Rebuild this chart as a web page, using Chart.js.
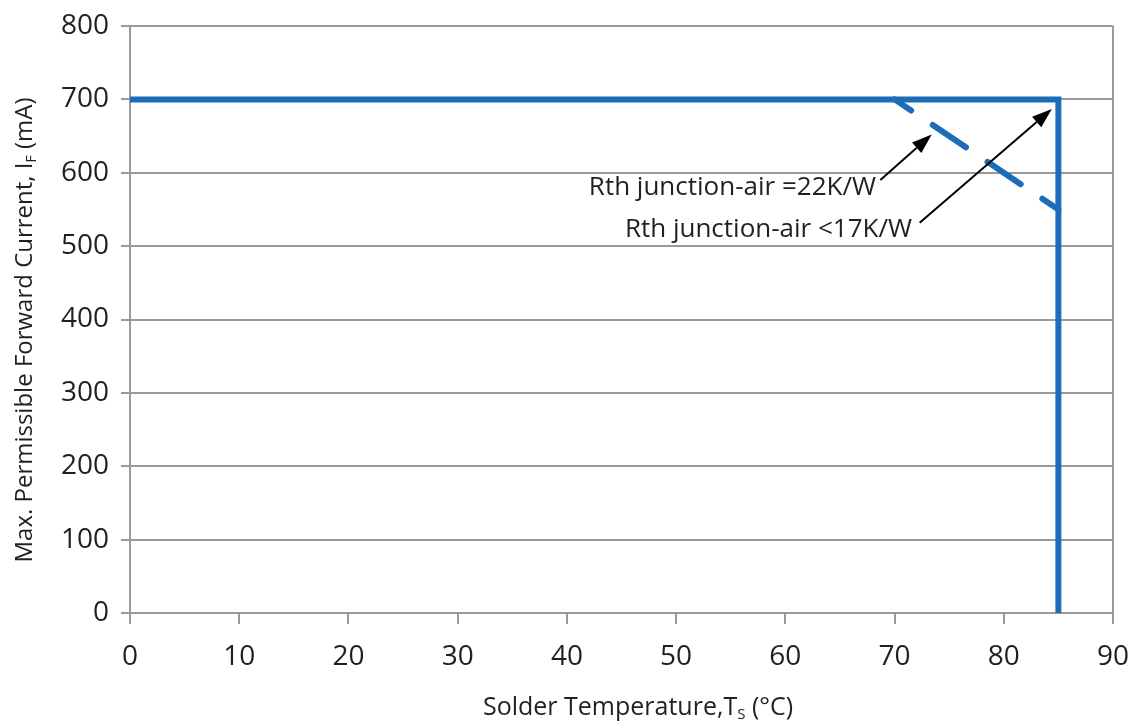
<!DOCTYPE html>
<html>
<head>
<meta charset="utf-8">
<script src="https://cdn.jsdelivr.net/npm/chart.js@4.4.1/dist/chart.umd.min.js"></script>
<style>
html,body{margin:0;padding:0;background:#fff;}
#wrap{width:1136px;height:727px;position:relative;}
</style>
</head>
<body>
<div id="wrap"><canvas id="c" width="1136" height="727"></canvas></div>
<script>
// ---- data ----
const xTicks = [0,10,20,30,40,50,60,70,80,90];
const yTicks = [0,100,200,300,400,500,600,700,800];
const limitLowRth = [ {x:0,y:700}, {x:85,y:700}, {x:85,y:0} ];   // Rth < 17 K/W
const limitHighRth = [ {x:70,y:700}, {x:85,y:550} ];             // Rth = 22 K/W
const annotationLabels = ["Rth junction-air =22K/W", "Rth junction-air <17K/W"];
const arrowTails = [ {x:68.7,y:590}, {x:72.3,y:532} ];
const arrowHeads = [ {x:73.4,y:652}, {x:84.4,y:687} ];
const labelAnchors = [ {x:68.3,y:580}, {x:71.6,y:522} ];

const BLUE = '#1c6db7';
const GRID = '#9a9a9a';
const TXT = '#231f20';
const FONT = '"Open Sans", "Noto Sans", sans-serif';

function drawMixed(ctx, parts, x, y, align) {
  let total = 0;
  parts.forEach(p => { ctx.font = p.size + 'px ' + FONT; p.w = ctx.measureText(p.t).width; total += p.w; });
  let cx = align === 'center' ? x - total/2 : (align === 'right' ? x - total : x);
  ctx.textAlign = 'left';
  ctx.textBaseline = 'alphabetic';
  parts.forEach(p => { ctx.font = p.size + 'px ' + FONT; ctx.fillText(p.t, cx, y + (p.dy||0)); cx += p.w; });
}

const decor = {
  id: 'decor',
  afterDatasetsDraw(chart) {
    const ctx = chart.ctx;
    const xs = chart.scales.x, ys = chart.scales.y;
    ctx.save();
    ctx.fillStyle = TXT;
    drawMixed(ctx, [
      {t:'Solder Temperature,T', size:25},
      {t:'S', size:15, dy:4},
      {t:' (°C)', size:25}
    ], 638, 715, 'center');
    ctx.save();
    ctx.translate(32, 330);
    ctx.rotate(-Math.PI/2);
    drawMixed(ctx, [
      {t:'Max. Permissible Forward Current, I', size:24},
      {t:'F', size:14, dy:4},
      {t:' (mA)', size:24}
    ], 0, 0, 'center');
    ctx.restore();
    ctx.font = '26px ' + FONT;
    ctx.textAlign = 'right';
    ctx.textBaseline = 'middle';
    annotationLabels.forEach((s,i) => {
      ctx.fillText(s, xs.getPixelForValue(labelAnchors[i].x), ys.getPixelForValue(labelAnchors[i].y));
    });
    ctx.strokeStyle = '#000';
    ctx.fillStyle = '#000';
    ctx.lineWidth = 2;
    arrowTails.forEach((t,i) => {
      const x0 = xs.getPixelForValue(t.x), y0 = ys.getPixelForValue(t.y);
      const x1 = xs.getPixelForValue(arrowHeads[i].x), y1 = ys.getPixelForValue(arrowHeads[i].y);
      const a = Math.atan2(y1-y0, x1-x0);
      const L = 20, W = 7;
      const bx = x1 - L*Math.cos(a), by = y1 - L*Math.sin(a);
      ctx.beginPath(); ctx.moveTo(x0,y0); ctx.lineTo(bx,by); ctx.stroke();
      ctx.beginPath();
      ctx.moveTo(x1,y1);
      ctx.lineTo(bx + W*Math.sin(a), by - W*Math.cos(a));
      ctx.lineTo(bx - W*Math.sin(a), by + W*Math.cos(a));
      ctx.closePath(); ctx.fill();
    });
    ctx.restore();
  }
};

new Chart(document.getElementById('c'), {
  type: 'scatter',
  data: {
    datasets: [
      { data: limitLowRth, showLine: true, borderColor: BLUE, borderWidth: 6, pointRadius: 0,
        borderJoinStyle: 'miter', borderCapStyle: 'butt', tension: 0, fill: false },
      { data: limitHighRth, showLine: true, borderColor: BLUE, borderWidth: 6, pointRadius: 0,
        borderDash: [40, 26], borderDashOffset: 20, borderCapStyle: 'round', tension: 0, fill: false }
    ]
  },
  options: {
    responsive: false,
    animation: false,
    devicePixelRatio: 1,
    layout: { padding: { top: 26, right: 23, left: 0, bottom: 0 } },
    plugins: { legend: { display: false }, tooltip: { enabled: false } },
    scales: {
      x: {
        type: 'linear', min: 0, max: 90,
        afterBuildTicks: s => { s.ticks = xTicks.map(v => ({value: v})); },
        afterFit: s => { s.height = 114; s.paddingLeft = 0; s.paddingRight = 0; },
        ticks: { color: TXT, font: { family: FONT, size: 28 }, padding: 16, maxRotation: 0 },
        grid: {
          color: c => (c.tick && c.tick.value === 90) ? GRID : 'rgba(0,0,0,0)',
          tickColor: GRID, tickLength: 11, lineWidth: 2, drawOnChartArea: true
        },
        border: { display: true, color: GRID, width: 2 }
      },
      y: {
        type: 'linear', min: 0, max: 800,
        afterBuildTicks: s => { s.ticks = yTicks.map(v => ({value: v})); },
        afterFit: s => { s.width = 130; s.paddingTop = 0; s.paddingBottom = 0; },
        ticks: { color: TXT, font: { family: FONT, size: 28 }, padding: 12 },
        grid: { color: GRID, tickColor: GRID, tickLength: 9, lineWidth: 2 },
        border: { display: true, color: GRID, width: 2 }
      }
    }
  },
  plugins: [decor]
});
</script>
</body>
</html>
